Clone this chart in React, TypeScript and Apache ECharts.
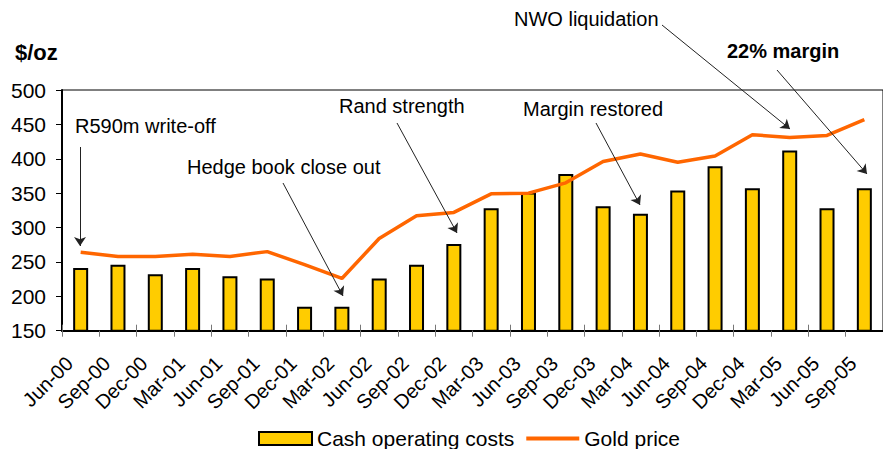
import React, { useEffect, useRef } from "react";
import * as echarts from "echarts";

const categories = [
  "Jun-00", "Sep-00", "Dec-00", "Mar-01", "Jun-01", "Sep-01", "Dec-01", "Mar-02",
  "Jun-02", "Sep-02", "Dec-02", "Mar-03", "Jun-03", "Sep-03", "Dec-03", "Mar-04",
  "Jun-04", "Sep-04", "Dec-04", "Mar-05", "Jun-05", "Sep-05",
];
const cashCosts = [241, 246, 232, 241, 229, 226, 185, 185, 226, 246, 276, 328, 351, 378, 331, 320, 354, 389, 357, 412, 328, 357];
const goldPrice = [264, 258, 258, 261, 258, 265, 246, 226, 284, 317, 322, 349, 350, 365, 396, 407, 395, 404, 435, 431, 434, 457];
const yTicks = { min: 150, max: 500, interval: 50 };

const annotations = [
  { text: "R590m write-off", x: 75, y: 126, bold: false },
  { text: "Hedge book close out", x: 187, y: 167, bold: false },
  { text: "Rand strength", x: 339, y: 106, bold: false },
  { text: "Margin restored", x: 523, y: 109, bold: false },
  { text: "NWO liquidation", x: 514, y: 19, bold: false },
  { text: "22% margin", x: 727, y: 51, bold: true },
];
const arrows = [
  [80, 147, 80, 246],
  [283, 183, 343, 296],
  [397, 123, 457, 233],
  [596, 123, 640, 205],
  [662, 25, 790, 129],
  [777, 70, 867, 174],
];

const FONT = "'Liberation Sans', Arial, sans-serif";

export default function App() {
  const ref = useRef<HTMLDivElement>(null);
  useEffect(() => {
    if (!ref.current) return;
    const chart = echarts.init(ref.current, null, { renderer: "svg" });
    chart.setOption({
      animation: false,
      backgroundColor: "#fff",
      textStyle: { fontFamily: FONT, color: "#000" },
      title: {
        text: "$/oz",
        left: 10,
        top: 36,
        textStyle: { fontFamily: FONT, fontSize: 22, fontWeight: "bold", color: "#000" },
      },
      legend: {
        left: 253,
        top: 423,
        itemWidth: 53,
        itemHeight: 13,
        itemGap: 10,
        textStyle: { fontFamily: FONT, fontSize: 21, color: "#000" },
        data: [
          { name: "Cash operating costs", icon: "rect" },
          { name: "Gold price", itemStyle: { opacity: 0 }, lineStyle: { width: 4, color: "#FF6600" } },
        ],
      },
      grid: {
        left: 62,
        top: 90,
        width: 829.7,
        height: 240.7,
        show: true,
        borderColor: "#000",
        borderWidth: 1,
        backgroundColor: "transparent",
      },
      xAxis: [
        {
          type: "category",
          data: categories,
          axisLine: { lineStyle: { color: "#000", width: 2 } },
          axisTick: { show: true, length: 6, lineStyle: { color: "#777", width: 1 } },
          axisLabel: {
            rotate: 45,
            interval: 0,
            fontFamily: FONT,
            fontSize: 20,
            color: "#000",
            margin: 18,
            padding: [0, 16, 0, 0],
          },
        },
        {
          type: "category",
          data: categories,
          position: "bottom",
          axisLine: { show: false },
          axisTick: { show: true, inside: true, length: 6, lineStyle: { color: "#777", width: 1 } },
          axisLabel: { show: false },
        },
      ],
      yAxis: {
        type: "value",
        min: yTicks.min,
        max: yTicks.max,
        interval: yTicks.interval,
        axisLine: { show: true, lineStyle: { color: "#000", width: 2 } },
        axisTick: { show: true, length: 6, lineStyle: { color: "#000", width: 1 } },
        splitLine: { show: false },
        axisLabel: { fontFamily: FONT, fontSize: 21, color: "#000", margin: 16 },
      },
      series: [
        {
          name: "Cash operating costs",
          type: "bar",
          data: cashCosts,
          barWidth: 15,
          itemStyle: { color: "#FFCC00", borderColor: "#000", borderWidth: 2 },
        },
        {
          name: "Gold price",
          type: "line",
          data: goldPrice,
          symbol: "none",
          lineStyle: { color: "#FF6600", width: 3.5 },
          itemStyle: { color: "#FF6600" },
          z: 3,
          markLine: {
            silent: true,
            symbol: ["none", "arrow"],
            symbolSize: 9,
            label: { show: false },
            lineStyle: { color: "#222", width: 1, type: "solid" },
            data: arrows.map(([x1, y1, x2, y2]) => [
              { x: x1, y: y1 },
              { x: x2, y: y2 },
            ]),
          },
        },
      ],
      graphic: annotations.map((a) => ({
        type: "text",
        x: a.x,
        y: a.y,
        style: {
          text: a.text,
          fill: "#000",
          font: `${a.bold ? "bold " : ""}20px ${FONT}`,
          align: "left",
          verticalAlign: "middle",
        },
      })),
    });
    return () => chart.dispose();
  }, []);
  return (
    <div
      ref={ref}
      style={{ position: "absolute", left: 0, top: 0, width: 883, height: 449 }}
    />
  );
}
